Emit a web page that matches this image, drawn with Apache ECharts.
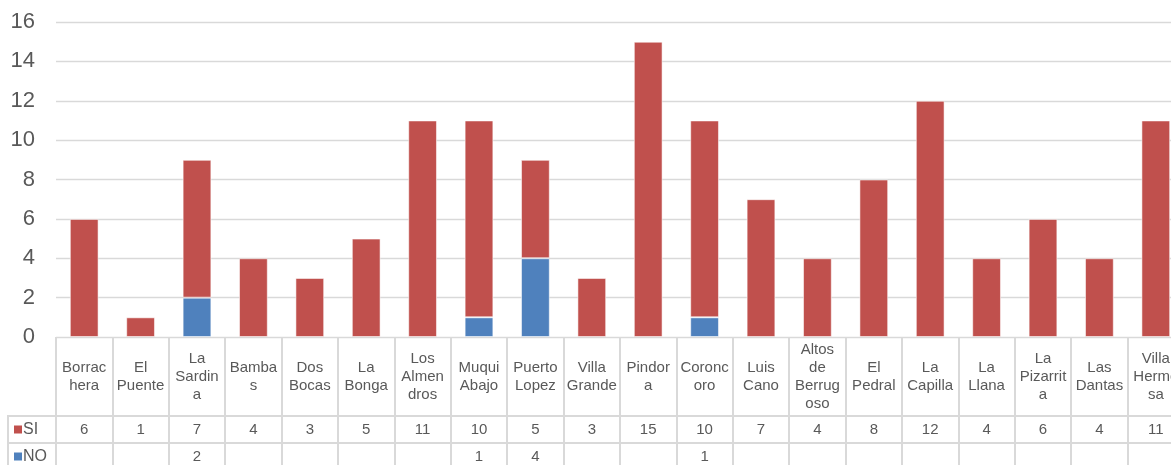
<!DOCTYPE html>
<html>
<head>
<meta charset="utf-8">
<script src="https://cdn.jsdelivr.net/npm/echarts@6/dist/echarts.min.js"></script>
<style>
  html, body { margin: 0; padding: 0; background: #fff; }
  #demo { width: 1171px; height: 465px; }
</style>
</head>
<body>
<div id="demo"></div>
<script>
// categories as they wrap in the table header
var categories = ['Borrac\nhera', 'El\nPuente', 'La\nSardin\na', 'Bamba\ns', 'Dos\nBocas', 'La\nBonga',
  'Los\nAlmen\ndros', 'Muqui\nAbajo', 'Puerto\nLopez', 'Villa\nGrande', 'Pindor\na', 'Coronc\noro',
  'Luis\nCano', 'Altos\nde\nBerrug\noso', 'El\nPedral', 'La\nCapilla', 'La\nLlana', 'La\nPizarrit\na',
  'Las\nDantas', 'Villa\nHerme\nsa'];
var siValues = [6, 1, 7, 4, 3, 5, 11, 10, 5, 3, 15, 10, 7, 4, 8, 12, 4, 6, 4, 11];
var noValues = [null, null, 2, null, null, null, null, 1, 4, null, null, 1, null, null, null, null, null, null, null, null];
var yTicks = [0, 2, 4, 6, 8, 10, 12, 14, 16];

var RED = '#C0504D';
var BLUE = '#4F81BD';
var TXT = '#595959';
var LINE = '#d9d9d9';
var FONT = 'Liberation Sans, Arial, sans-serif';

var myChart = echarts.init(document.getElementById('demo'));

// one table row = one grid with a category x axis (vertical lines = splitLine)
function rowAxis(grid, labelFn, margin) {
  return {
    type: 'category', gridIndex: grid, data: categories, position: 'top',
    axisLine: { show: true, lineStyle: { color: LINE, width: 2 } },
    axisTick: { show: false },
    splitLine: { show: true, lineStyle: { color: LINE, width: 2 } },
    axisLabel: {
      show: true, inside: true, interval: 0, margin: margin, verticalAlign: 'middle',
      color: TXT, fontSize: 15, lineHeight: 18, fontFamily: FONT,
      formatter: labelFn
    }
  };
}

function rowLabel(grid, name, color) {
  return {
    type: 'category', gridIndex: grid, data: [name],
    axisLine: { show: false }, axisTick: { show: false }, splitLine: { show: false },
    axisLabel: {
      show: true, align: 'left', margin: 42, verticalAlign: 'middle',
      fontSize: 15, fontFamily: FONT, color: TXT,
      formatter: function (v) { return '{sq|}{t|' + v + '}'; },
      rich: {
        sq: { width: 8, height: 8, backgroundColor: color, verticalAlign: 'middle' },
        t: { color: TXT, fontSize: 16, fontFamily: FONT, verticalAlign: 'middle', padding: [0, 0, 0, 1] }
      }
    }
  };
}

var option = {
  animation: false,
  grid: [
    { left: 56, top: 22, width: 1128, height: 315, outerBoundsMode: 'none' },
    { left: 56, top: 337, width: 1128, height: 79, outerBoundsMode: 'none' },
    { left: 56, top: 416, width: 1128, height: 27, outerBoundsMode: 'none' },
    { left: 56, top: 443, width: 1128, height: 27, outerBoundsMode: 'none' }
  ],
  xAxis: [
    {
      type: 'category', gridIndex: 0, data: categories,
      axisLine: { show: false }, axisTick: { show: false }, axisLabel: { show: false }
    },
    rowAxis(1, function (v) { return v; }, 39.5),
    rowAxis(2, function (v, i) { return siValues[i] == null ? '' : String(siValues[i]); }, 13.5),
    rowAxis(3, function (v, i) { return noValues[i] == null ? '' : String(noValues[i]); }, 13.5)
  ],
  yAxis: [
    {
      type: 'value', gridIndex: 0, min: yTicks[0], max: yTicks[yTicks.length - 1], interval: 2,
      axisLine: { show: false }, axisTick: { show: false },
      axisLabel: { color: TXT, fontSize: 22, fontFamily: FONT, margin: 21 },
      splitLine: { lineStyle: { color: LINE, width: 1.3 } }
    },
    { type: 'value', gridIndex: 1, show: false },
    rowLabel(2, 'SI', RED),
    rowLabel(3, 'NO', BLUE)
  ],
  graphic: [
    // borders of the row-label cells
    { type: 'polyline', shape: { points: [[56, 416], [8, 416], [8, 470]] }, style: { stroke: LINE, lineWidth: 2, fill: null } },
    { type: 'line', shape: { x1: 8, y1: 443, x2: 56, y2: 443 }, style: { stroke: LINE, lineWidth: 2 } }
  ],
  series: [
    {
      name: 'NO', type: 'bar', stack: 'total', xAxisIndex: 0, yAxisIndex: 0, barWidth: '51%',
      itemStyle: { color: BLUE, borderColor: 'rgba(255,255,255,0.55)', borderWidth: 1 },
      data: noValues
    },
    {
      name: 'SI', type: 'bar', stack: 'total', xAxisIndex: 0, yAxisIndex: 0, barWidth: '51%',
      itemStyle: { color: RED, borderColor: 'rgba(255,255,255,0.55)', borderWidth: 1 },
      data: siValues
    }
  ]
};

myChart.setOption(option);
</script>
</body>
</html>
